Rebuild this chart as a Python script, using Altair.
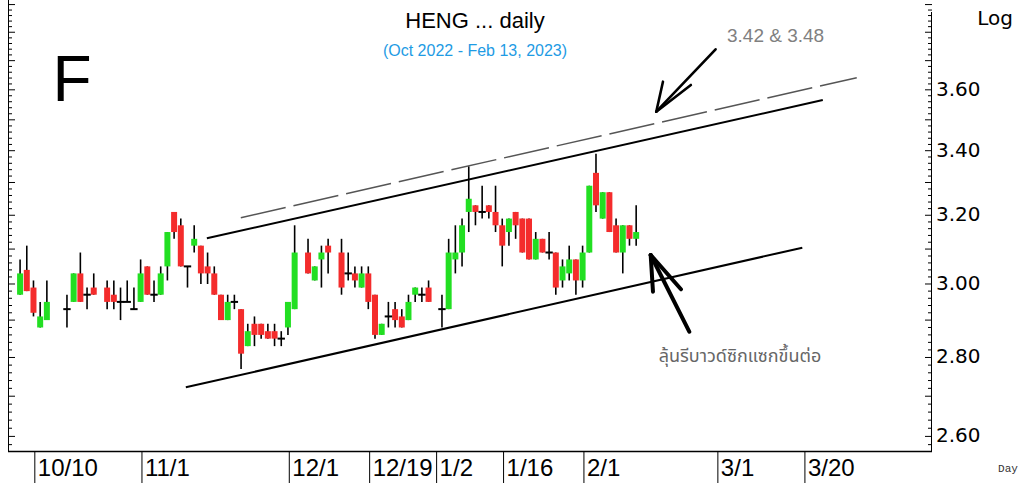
import altair as alt
import pandas as pd
import numpy as np

# ---------------- data ----------------
dates = [
    "2022-10-06", "2022-10-07", "2022-10-10", "2022-10-11", "2022-10-12", "2022-10-17",
    "2022-10-18", "2022-10-19", "2022-10-20", "2022-10-21", "2022-10-25", "2022-10-26",
    "2022-10-27", "2022-10-28", "2022-10-31", "2022-11-01", "2022-11-02", "2022-11-03",
    "2022-11-04", "2022-11-07", "2022-11-08", "2022-11-09", "2022-11-10", "2022-11-11",
    "2022-11-14", "2022-11-15", "2022-11-16", "2022-11-17", "2022-11-18", "2022-11-21",
    "2022-11-22", "2022-11-23", "2022-11-24", "2022-11-25", "2022-11-28", "2022-11-29",
    "2022-11-30", "2022-12-01", "2022-12-02", "2022-12-06", "2022-12-07", "2022-12-08",
    "2022-12-09", "2022-12-13", "2022-12-14", "2022-12-15", "2022-12-16", "2022-12-19",
    "2022-12-20", "2022-12-21", "2022-12-22", "2022-12-23", "2022-12-26", "2022-12-27",
    "2022-12-28", "2022-12-29", "2022-12-30", "2023-01-03", "2023-01-04", "2023-01-05",
    "2023-01-06", "2023-01-09", "2023-01-10", "2023-01-11", "2023-01-12", "2023-01-13",
    "2023-01-16", "2023-01-17", "2023-01-18", "2023-01-19", "2023-01-20", "2023-01-23",
    "2023-01-24", "2023-01-25", "2023-01-26", "2023-01-27", "2023-01-30", "2023-01-31",
    "2023-02-01", "2023-02-02", "2023-02-03", "2023-02-06", "2023-02-07", "2023-02-08",
    "2023-02-09", "2023-02-10", "2023-02-13",
]
opens = [
    2.97, 3.04, 2.99, 2.88, 2.90, 2.93, 2.95, 3.03, 2.97, 2.99, 2.99, 2.97,
    2.95, 2.95, 2.93, 2.95, 3.05, 2.97, 2.97, 3.05, 3.21, 3.17, 3.05, 3.11,
    3.11, 3.05, 3.03, 2.97, 2.90, 2.95, 2.93, 2.83, 2.89, 2.89, 2.87, 2.87,
    2.85, 2.88, 2.93, 3.09, 3.01, 3.07, 3.11, 3.09, 3.03, 3.03, 2.99, 3.03,
    2.97, 2.86, 2.91, 2.93, 2.91, 2.90, 2.97, 2.97, 2.99, 2.93, 2.93, 3.07,
    3.09, 3.21, 3.23, 3.21, 3.23, 3.21, 3.17, 3.15, 3.21, 3.19, 3.19, 3.07,
    3.13, 3.09, 3.09, 3.01, 3.03, 3.07, 3.01, 3.09, 3.33, 3.19, 3.27, 3.17,
    3.09, 3.17, 3.13,
]
highs = [
    3.07, 3.11, 3.01, 2.95, 3.01, 2.97, 3.03, 3.09, 2.99, 3.03, 3.01, 3.01,
    2.99, 3.01, 2.99, 3.07, 3.05, 3.01, 3.05, 3.15, 3.21, 3.19, 3.05, 3.17,
    3.11, 3.09, 3.05, 2.97, 2.97, 2.97, 2.93, 2.89, 2.91, 2.89, 2.89, 2.89,
    2.87, 2.95, 3.17, 3.13, 3.05, 3.11, 3.13, 3.13, 3.09, 3.05, 3.05, 3.05,
    2.97, 2.89, 2.95, 2.95, 2.93, 2.97, 2.99, 2.99, 3.01, 2.97, 3.13, 3.17,
    3.19, 3.35, 3.23, 3.29, 3.23, 3.29, 3.19, 3.19, 3.21, 3.19, 3.19, 3.15,
    3.13, 3.15, 3.09, 3.07, 3.11, 3.07, 3.11, 3.29, 3.39, 3.27, 3.27, 3.19,
    3.17, 3.17, 3.23,
]
lows = [
    2.97, 2.98, 2.91, 2.88, 2.90, 2.88, 2.95, 2.95, 2.93, 2.97, 2.93, 2.93,
    2.90, 2.95, 2.93, 2.95, 2.97, 2.95, 2.97, 3.01, 3.13, 3.05, 2.99, 3.09,
    3.00, 3.00, 2.97, 2.90, 2.90, 2.93, 2.77, 2.83, 2.83, 2.85, 2.85, 2.83,
    2.83, 2.86, 2.93, 3.03, 3.01, 2.99, 3.03, 2.97, 3.01, 2.99, 2.99, 2.93,
    2.85, 2.86, 2.88, 2.88, 2.88, 2.90, 2.95, 2.95, 2.95, 2.88, 2.93, 3.03,
    3.05, 3.15, 3.17, 3.19, 3.19, 3.15, 3.05, 3.11, 3.13, 3.09, 3.07, 3.07,
    3.09, 3.07, 2.97, 2.99, 3.01, 2.97, 2.99, 3.09, 3.21, 3.19, 3.15, 3.09,
    3.03, 3.11, 3.11,
]
closes = [
    3.03, 2.98, 2.92, 2.91, 2.95, 2.93, 3.03, 2.95, 2.97, 2.97, 2.95, 2.95,
    2.95, 2.95, 2.93, 3.03, 2.97, 2.97, 3.03, 3.15, 3.15, 3.05, 3.05, 3.13,
    3.03, 3.03, 2.97, 2.90, 2.95, 2.95, 2.81, 2.87, 2.86, 2.86, 2.85, 2.85,
    2.85, 2.95, 3.09, 3.03, 3.05, 3.09, 3.09, 2.99, 3.03, 3.01, 3.03, 2.95,
    2.86, 2.89, 2.91, 2.90, 2.88, 2.95, 2.99, 2.97, 2.95, 2.93, 3.09, 3.09,
    3.17, 3.25, 3.21, 3.21, 3.21, 3.17, 3.11, 3.19, 3.17, 3.09, 3.07, 3.13,
    3.09, 3.09, 2.99, 3.05, 3.07, 3.01, 3.09, 3.29, 3.23, 3.27, 3.15, 3.09,
    3.17, 3.13, 3.15,
]

tick_dates = ["2022-10-10", "2022-11-01", "2022-12-01", "2022-12-19", "2023-01-02",
              "2023-01-16", "2023-02-01", "2023-03-01", "2023-03-20"]
tick_labels = ["10/10", "11/1", "12/1", "12/19", "1/2", "1/16", "2/1", "3/1", "3/20"]
price_labels = [2.60, 2.80, 3.00, 3.20, 3.40, 3.60]

# trend lines / arrows in (weekday index, price) coordinates
line_x1 = [22.75, 25.89]
line_y1 = [2.7227, 3.1315]
line_x2 = [114.81, 117.87]
line_y2 = [3.104, 3.5657]
dash_x1, dash_y1, dash_x2, dash_y2 = [30.96], [3.1927], [122.94], [3.6412]
arrow1_x1 = [101.86, 93.0, 93.0]
arrow1_y1 = [3.7397, 3.5268, 3.5268]
arrow1_x2 = [93.0, 94.0, 98.17]
arrow1_y2 = [3.5268, 3.6276, 3.6164]
arrow2_x1 = [97.93, 92.17, 92.17]
arrow2_y1 = [2.8686, 3.0828, 3.0828]
arrow2_x2 = [92.17, 92.51, 96.69]
arrow2_y2 = [3.0828, 2.9783, 2.9851]

note_top = ("3.42 & 3.48", 110.82, 3.7866)
note_bottom = ("ลุ้นรีบาวด์ซิกแซกขึ้นต่อ", 105.5, 2.8013)

# ---------------- build ----------------
BASE = "2022-10-10"
idx = np.busday_count(BASE, np.array(dates, dtype="datetime64[D]"))

df = pd.DataFrame({"i": idx, "open": opens, "high": highs, "low": lows, "close": closes})
df["dir"] = np.where(df["close"] > df["open"], "up", np.where(df["close"] < df["open"], "down", "flat"))
df["il"] = df["i"] - 0.55
df["ir"] = df["i"] + 0.55
bodies = df[df["dir"] != "flat"]
dojis = df[df["dir"] == "flat"]

tk = pd.DataFrame({"i": np.busday_count(BASE, np.array(tick_dates, dtype="datetime64[D]")) + 0.2,
                   "label": tick_labels})

W, H = 924, 452
xs = alt.Scale(domain=[-3.0576, 133.43], nice=False, zero=False)
ys = alt.Scale(type="log", domain=[2.5622, 3.9168], nice=False, zero=False)

dummy = pd.DataFrame({"a": [0]})

minor_vals = [round(v, 2) for v in np.arange(2.58, 3.905, 0.02)]
ticks_df = pd.DataFrame({"p": minor_vals})
ticks_df["major"] = [abs(round(v * 10) - v * 10) < 1e-6 for v in ticks_df["p"]]
maj = ticks_df[ticks_df["major"]]
mnr = ticks_df[~ticks_df["major"]]

X = lambda f: alt.X(f, type="quantitative", scale=xs, axis=None)
Y = lambda f: alt.Y(f, type="quantitative", scale=ys, axis=None)

wicks = alt.Chart(df).mark_rule(color="black", strokeWidth=1.6).encode(
    x=X("i"), y=Y("low"), y2="high")
body = alt.Chart(bodies).mark_bar(size=6).encode(
    x=X("i"), y=Y("open"), y2="close",
    color=alt.Color("dir:N", scale=alt.Scale(domain=["up", "down"], range=["#22DF22", "#F42C2C"]), legend=None))
doji = alt.Chart(dojis).mark_rule(color="black", strokeWidth=2).encode(
    x=X("il"), x2="ir", y=Y("open"))

solid = alt.Chart(pd.DataFrame({"x": line_x1, "y": line_y1, "x2": line_x2, "y2": line_y2})).mark_rule(
    color="black", strokeWidth=2).encode(x=X("x"), y=Y("y"), x2="x2", y2="y2")
dashed = alt.Chart(pd.DataFrame({"x": dash_x1, "y": dash_y1, "x2": dash_x2, "y2": dash_y2})).mark_rule(
    color="#555555", strokeWidth=1.5, strokeDash=[46, 8]).encode(x=X("x"), y=Y("y"), x2="x2", y2="y2")
arrow1 = alt.Chart(pd.DataFrame({"x": arrow1_x1, "y": arrow1_y1, "x2": arrow1_x2, "y2": arrow1_y2})).mark_rule(
    color="black", strokeWidth=2.6, strokeCap="round").encode(x=X("x"), y=Y("y"), x2="x2", y2="y2")
arrow2 = alt.Chart(pd.DataFrame({"x": arrow2_x1, "y": arrow2_y1, "x2": arrow2_x2, "y2": arrow2_y2})).mark_rule(
    color="black", strokeWidth=4, strokeCap="round").encode(x=X("x"), y=Y("y"), x2="x2", y2="y2")

notes = pd.DataFrame({"t": [note_top[0]], "x": [note_top[1]], "y": [note_top[2]]})
note1 = alt.Chart(notes).mark_text(font="Liberation Sans", fontSize=19, color="#808080").encode(
    x=X("x"), y=Y("y"), text="t:N")
notes2 = pd.DataFrame({"t": [note_bottom[0]], "x": [note_bottom[1]], "y": [note_bottom[2]]})
note2 = alt.Chart(notes2).mark_text(font="Tahoma, Noto Sans Thai, Loma, Garuda, sans-serif",
                                    fontSize=18, color="#666666").encode(x=X("x"), y=Y("y"), text="t:N")

# frame
left_line = alt.Chart(dummy).mark_rule(color="black", strokeWidth=1).encode(
    x=alt.value(0.5), y=alt.value(0), y2=alt.value(H))
right_line = alt.Chart(dummy).mark_rule(color="black", strokeWidth=1).encode(
    x=alt.value(W - 0.5), y=alt.value(12), y2=alt.value(H))
bottom_line = alt.Chart(dummy).mark_rule(color="black", strokeWidth=1.5).encode(
    x=alt.value(0), x2=alt.value(W), y=alt.value(H - 0.5))

tick_layers = []
for d, ln in ((mnr, 4), (maj, 7)):
    tick_layers.append(alt.Chart(d).mark_rule(color="black", strokeWidth=1).encode(
        y=Y("p"), x=alt.value(0), x2=alt.value(ln)))
    tick_layers.append(alt.Chart(d).mark_rule(color="black", strokeWidth=1).encode(
        y=Y("p"), x=alt.value(W - ln), x2=alt.value(W)))

plabels = alt.Chart(pd.DataFrame({"p": price_labels, "t": [f"{v:.2f}" for v in price_labels]})).mark_text(
    align="left", baseline="middle", font="DejaVu Sans", fontSize=20, color="black").encode(
    y=Y("p"), x=alt.value(W + 4), text="t:N")

sep = alt.Chart(tk).mark_rule(color="black", strokeWidth=1).encode(
    x=X("i"), y=alt.value(H), y2=alt.value(H + 31))
xlabels = alt.Chart(tk).mark_text(align="left", baseline="middle", dx=3,
                                  font="Liberation Sans Narrow, Arial Narrow, Liberation Sans",
                                  fontSize=24, color="black").encode(
    x=X("i"), y=alt.value(H + 17), text="label:N")

def txt(t, x, y, **kw):
    return alt.Chart(dummy).mark_text(**kw).encode(x=alt.value(x), y=alt.value(y), text=alt.value(t))

title = txt("HENG ... daily", 467, 21, font="Liberation Sans", fontSize=22, color="black", baseline="middle")
subtitle = txt("(Oct 2022 - Feb 13, 2023)", 467, 51, font="Liberation Sans", fontSize=16, color="#1E9BE4",
               baseline="middle")
big_f = txt("F", 64, 82, font="Liberation Sans", fontSize=64, color="black", baseline="middle")
log_t = txt("Log", 987, 19, font="DejaVu Sans", fontSize=20, color="black", baseline="middle")
day_t = txt("Day", 1000, 469, font="Courier New, Liberation Mono, monospace", fontSize=11,
            color="#333333", baseline="middle")

chart = alt.layer(
    left_line, right_line, bottom_line, *tick_layers,
    dashed, solid, wicks, body, doji, arrow1, arrow2, note1, note2,
    plabels, sep, xlabels, title, subtitle, big_f, log_t, day_t,
).properties(
    width=W, height=H, autosize="none",
    padding={"left": 8, "top": 0, "right": 87, "bottom": 31},
    background="white",
).configure_view(stroke=None)

chart.save("out.html", embed_options={"renderer": "svg", "actions": False})
